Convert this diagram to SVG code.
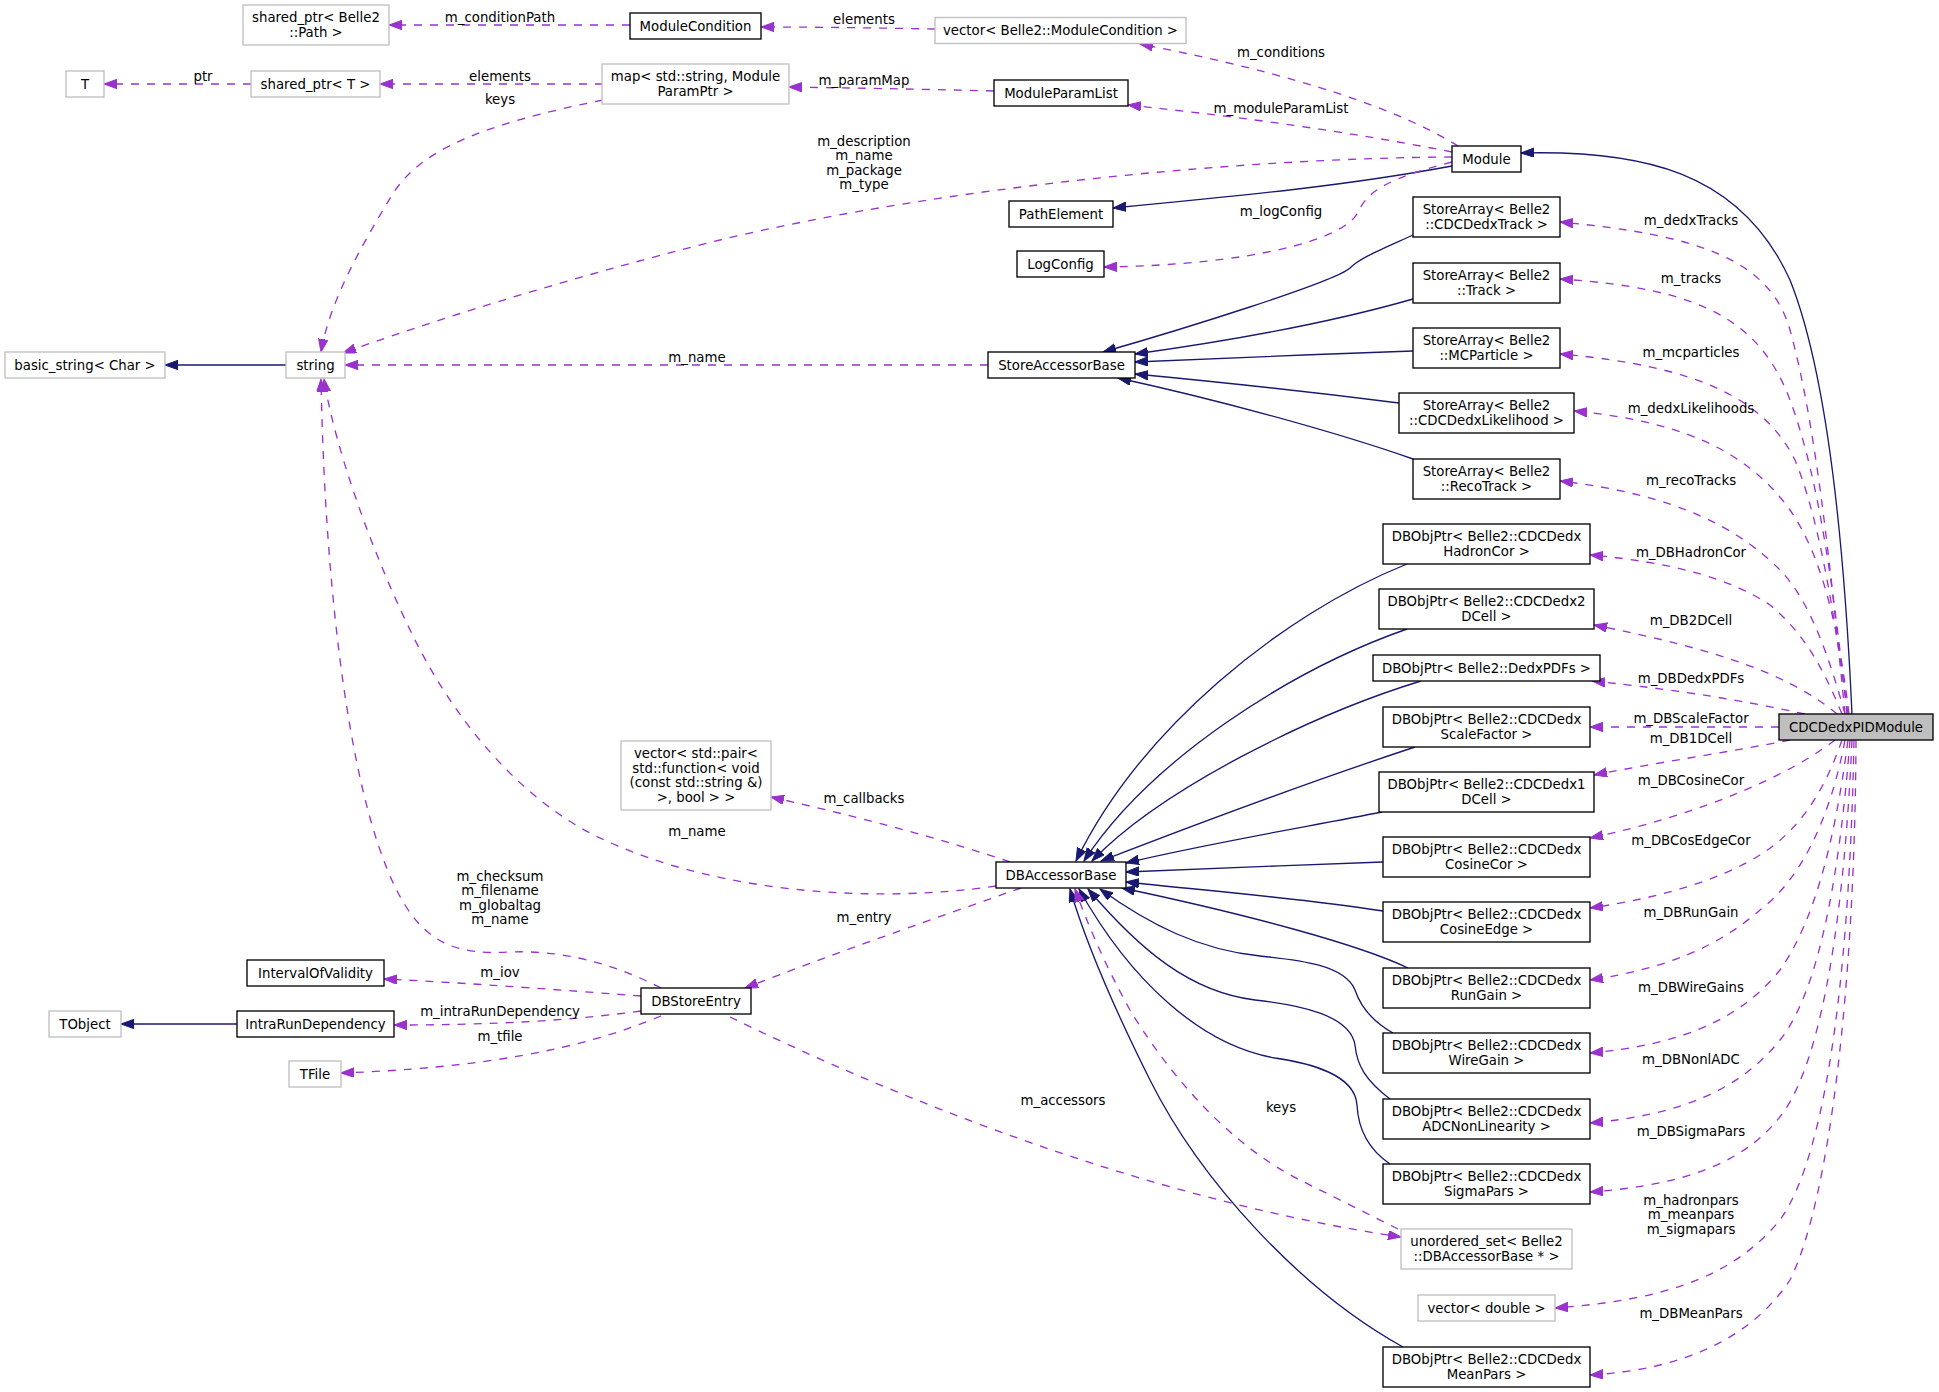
<svg xmlns="http://www.w3.org/2000/svg" width="1939" height="1392" viewBox="0 0 1939 1392">
<style>
text{font-family:"DejaVu Sans","Liberation Sans",sans-serif;font-size:13.3px;text-anchor:middle;fill:#000}
.n rect{fill:#fff;stroke:#000;stroke-width:1.33}
.g rect{fill:#fff;stroke:#bfbfbf;stroke-width:1.33}
.m rect{fill:#bfbfbf;stroke:#000;stroke-width:1.33}
.s{fill:none;stroke:#191970;stroke-width:1.33}
.d{fill:none;stroke:#9a32cd;stroke-width:1.33;stroke-dasharray:8,8}
</style>
<defs>
<marker id="ab" markerUnits="userSpaceOnUse" markerWidth="14" markerHeight="10" refX="13" refY="4.7" orient="auto"><path d="M0,0 L13,4.7 L0,9.4 z" fill="#191970" stroke="#191970" stroke-width="1"/></marker>
<marker id="ap" markerUnits="userSpaceOnUse" markerWidth="14" markerHeight="10" refX="13" refY="4.7" orient="auto"><path d="M0,0 L13,4.7 L0,9.4 z" fill="#9a32cd" stroke="#9a32cd" stroke-width="1"/></marker>
</defs>
<rect width="1939" height="1392" fill="#fff"/>
<g id="connectors">
<path class="s" marker-end="url(#ab)" d="M1852,714 C1845,560 1830,380 1790,280 C1740,170 1640,150 1521,153"/>
<path class="s" marker-end="url(#ab)" d="M1452,166 C1350,185 1250,195 1113,208"/>
<path class="s" marker-end="url(#ab)" d="M286,365 L165,365"/>
<path class="s" marker-end="url(#ab)" d="M237,1024 L121,1024"/>
<path class="s" marker-end="url(#ab)" d="M1413,235 C1380,250 1360,258 1350,268 C1335,282 1180,330 1103,352"/>
<path class="s" marker-end="url(#ab)" d="M1413,299 C1340,320 1250,338 1135,354"/>
<path class="s" marker-end="url(#ab)" d="M1413,351 C1320,354 1230,358 1135,362"/>
<path class="s" marker-end="url(#ab)" d="M1399,403 C1320,393 1230,383 1135,374"/>
<path class="s" marker-end="url(#ab)" d="M1413,459 C1330,430 1210,398 1118,378"/>
<path class="s" marker-end="url(#ab)" d="M1407,564 C1280,615 1140,730 1076,861"/>
<path class="s" marker-end="url(#ab)" d="M1407,629 C1290,670 1150,760 1084,861"/>
<path class="s" marker-end="url(#ab)" d="M1421,681 C1310,715 1160,790 1092,861"/>
<path class="s" marker-end="url(#ab)" d="M1415,747 C1330,775 1220,815 1101,861"/>
<path class="s" marker-end="url(#ab)" d="M1382,812 C1300,828 1200,845 1126,863"/>
<path class="s" marker-end="url(#ab)" d="M1383,862 C1300,865 1200,869 1126,872"/>
<path class="s" marker-end="url(#ab)" d="M1383,911 C1300,898 1200,890 1126,882"/>
<path class="s" marker-end="url(#ab)" d="M1408,968 C1360,945 1250,915 1122,888"/>
<path class="s" marker-end="url(#ab)" d="M1393,1033 C1370,1020 1360,1005 1355,990 C1345,965 1300,960 1260,956 C1200,950 1150,925 1100,889"/>
<path class="s" marker-end="url(#ab)" d="M1390,1099 C1365,1080 1357,1065 1355,1045 C1350,1015 1300,1005 1255,1000 C1190,992 1140,950 1088,889"/>
<path class="s" marker-end="url(#ab)" d="M1390,1164 C1365,1147 1358,1125 1357,1105 C1355,1075 1310,1063 1275,1058 C1200,1045 1130,980 1079,889"/>
<path class="s" marker-end="url(#ab)" d="M1403,1347 C1300,1290 1200,1180 1150,1080 C1110,1000 1085,940 1070,889"/>
<path class="d" marker-end="url(#ap)" d="M630,25 L389,25"/>
<path class="d" marker-end="url(#ap)" d="M935,29 C880,28 820,27 761,27"/>
<path class="d" marker-end="url(#ap)" d="M251,84 L104,84"/>
<path class="d" marker-end="url(#ap)" d="M603,84 L380,84"/>
<path class="d" marker-end="url(#ap)" d="M994,91 C920,89 850,88 789,87"/>
<path class="d" marker-end="url(#ap)" d="M603,100 C480,125 420,150 392,195 C362,245 330,300 321,352"/>
<path class="d" marker-end="url(#ap)" d="M1458,146 C1400,110 1300,75 1140,44"/>
<path class="d" marker-end="url(#ap)" d="M1452,152 C1350,132 1250,118 1128,105"/>
<path class="d" marker-end="url(#ap)" d="M1452,157 C1250,158 950,185 720,240 C560,280 420,325 343,353"/>
<path class="d" marker-end="url(#ap)" d="M1452,162 C1390,178 1368,190 1358,212 C1345,240 1250,265 1104,267"/>
<path class="d" marker-end="url(#ap)" d="M988,365 L345,365"/>
<path class="d" marker-end="url(#ap)" d="M1845,714 C1830,560 1815,420 1790,330 C1770,260 1700,235 1560,222"/>
<path class="d" marker-end="url(#ap)" d="M1847,714 C1835,600 1820,480 1790,400 C1760,320 1700,288 1560,279"/>
<path class="d" marker-end="url(#ap)" d="M1848,714 C1835,620 1820,520 1795,460 C1765,400 1700,366 1560,354"/>
<path class="d" marker-end="url(#ap)" d="M1849,714 C1840,640 1825,560 1790,510 C1750,455 1690,422 1574,411"/>
<path class="d" marker-end="url(#ap)" d="M1845,714 C1830,660 1810,600 1780,570 C1740,530 1680,495 1560,481"/>
<path class="d" marker-end="url(#ap)" d="M1842,714 C1820,660 1800,630 1770,605 C1730,578 1670,562 1590,555"/>
<path class="d" marker-end="url(#ap)" d="M1837,714 C1790,675 1720,650 1594,625"/>
<path class="d" marker-end="url(#ap)" d="M1805,714 C1740,700 1680,690 1592,681"/>
<path class="d" marker-end="url(#ap)" d="M1779,727 L1590,727"/>
<path class="d" marker-end="url(#ap)" d="M1790,740 C1730,752 1660,762 1594,775"/>
<path class="d" marker-end="url(#ap)" d="M1835,740 C1790,775 1700,815 1590,838"/>
<path class="d" marker-end="url(#ap)" d="M1842,740 C1825,790 1800,830 1760,855 C1720,880 1660,898 1590,908"/>
<path class="d" marker-end="url(#ap)" d="M1845,740 C1830,820 1800,880 1760,910 C1720,945 1670,968 1590,980"/>
<path class="d" marker-end="url(#ap)" d="M1848,740 C1835,840 1815,920 1780,970 C1740,1020 1680,1045 1590,1053"/>
<path class="d" marker-end="url(#ap)" d="M1850,740 C1840,870 1820,990 1780,1040 C1740,1090 1680,1115 1590,1123"/>
<path class="d" marker-end="url(#ap)" d="M1852,740 C1845,900 1825,1050 1785,1110 C1750,1160 1690,1185 1590,1192"/>
<path class="d" marker-end="url(#ap)" d="M1854,740 C1850,950 1830,1150 1780,1220 C1730,1280 1660,1300 1555,1308"/>
<path class="d" marker-end="url(#ap)" d="M1856,740 C1855,980 1830,1200 1790,1280 C1750,1340 1680,1370 1590,1375"/>
<path class="d" marker-end="url(#ap)" d="M1010,862 C930,835 850,815 771,797"/>
<path class="d" marker-end="url(#ap)" d="M996,886 C880,903 720,895 600,838 C520,800 455,720 415,640 C375,560 335,450 324,379"/>
<path class="d" marker-end="url(#ap)" d="M1021,888 C930,920 830,955 745,988"/>
<path class="d" marker-end="url(#ap)" d="M661,988 C610,962 560,950 510,952 C460,955 430,945 405,905 C352,820 325,600 321,379"/>
<path class="d" marker-end="url(#ap)" d="M641,996 C560,990 470,983 384,979"/>
<path class="d" marker-end="url(#ap)" d="M641,1011 C560,1022 480,1025 394,1025"/>
<path class="d" marker-end="url(#ap)" d="M661,1016 C580,1050 480,1068 341,1073"/>
<path class="d" marker-end="url(#ap)" d="M730,1017 C900,1100 1150,1200 1401,1237"/>
<path class="d" marker-end="url(#ap)" d="M1398,1229 C1370,1215 1330,1195 1300,1180 C1220,1140 1160,1060 1130,1010 C1105,965 1088,925 1075,889"/>
<text x="500" y="21.5">m_conditionPath</text>
<text x="864" y="23.5">elements</text>
<text x="203" y="80.5">ptr</text>
<text x="500" y="80.5">elements</text>
<text x="500" y="103.5">keys</text>
<text x="864" y="84.5">m_paramMap</text>
<text x="1281" y="56.5">m_conditions</text>
<text x="1281" y="112.5">m_moduleParamList</text>
<text x="864" y="145.5">m_description</text>
<text x="864" y="160">m_name</text>
<text x="864" y="174.5">m_package</text>
<text x="864" y="189">m_type</text>
<text x="1281" y="215.5">m_logConfig</text>
<text x="697" y="361.5">m_name</text>
<text x="1691" y="224.5">m_dedxTracks</text>
<text x="1691" y="282.5">m_tracks</text>
<text x="1691" y="356.5">m_mcparticles</text>
<text x="1691" y="412.5">m_dedxLikelihoods</text>
<text x="1691" y="484.5">m_recoTracks</text>
<text x="1691" y="556.5">m_DBHadronCor</text>
<text x="1691" y="624.5">m_DB2DCell</text>
<text x="1691" y="682.5">m_DBDedxPDFs</text>
<text x="1691" y="723">m_DBScaleFactor</text>
<text x="1691" y="742.5">m_DB1DCell</text>
<text x="1691" y="784.5">m_DBCosineCor</text>
<text x="1691" y="844.5">m_DBCosEdgeCor</text>
<text x="1691" y="916.5">m_DBRunGain</text>
<text x="1691" y="991.5">m_DBWireGains</text>
<text x="1691" y="1063.5">m_DBNonlADC</text>
<text x="1691" y="1135.5">m_DBSigmaPars</text>
<text x="1691" y="1204.5">m_hadronpars</text>
<text x="1691" y="1219">m_meanpars</text>
<text x="1691" y="1233.5">m_sigmapars</text>
<text x="1691" y="1317.5">m_DBMeanPars</text>
<text x="864" y="802.5">m_callbacks</text>
<text x="697" y="835.5">m_name</text>
<text x="864" y="921.5">m_entry</text>
<text x="500" y="880.5">m_checksum</text>
<text x="500" y="895">m_filename</text>
<text x="500" y="909.5">m_globaltag</text>
<text x="500" y="924">m_name</text>
<text x="500" y="976.5">m_iov</text>
<text x="500" y="1015.5">m_intraRunDependency</text>
<text x="500" y="1040.5">m_tfile</text>
<text x="1063" y="1104.5">m_accessors</text>
<text x="1281" y="1111.5">keys</text>
</g>
<g id="node_shared_ptr_path" class="g"><rect x="243" y="5" width="146" height="40"/><text x="316" y="22.3">shared_ptr&lt; Belle2</text><text x="316" y="36.8">::Path &gt;</text></g>
<g id="node_T" class="g"><rect x="66" y="71" width="38" height="26"/><text x="85" y="88.5">T</text></g>
<g id="node_shared_ptr_T" class="g"><rect x="251" y="71" width="129" height="26"/><text x="315.5" y="88.5">shared_ptr&lt; T &gt;</text></g>
<g id="node_ModuleCondition" class="n"><rect x="630" y="13" width="131" height="26"/><text x="695.5" y="30.5">ModuleCondition</text></g>
<g id="node_vector_ModuleCondition" class="g"><rect x="935" y="17.5" width="251" height="26"/><text x="1060.5" y="35">vector&lt; Belle2::ModuleCondition &gt;</text></g>
<g id="node_map" class="g"><rect x="602" y="64" width="187" height="40"/><text x="695.5" y="81.3">map&lt; std::string, Module</text><text x="695.5" y="95.8">ParamPtr &gt;</text></g>
<g id="node_ModuleParamList" class="n"><rect x="994" y="80" width="134" height="26"/><text x="1061" y="97.5">ModuleParamList</text></g>
<g id="node_Module" class="n"><rect x="1452" y="146" width="69" height="26"/><text x="1486.5" y="163.5">Module</text></g>
<g id="node_PathElement" class="n"><rect x="1009" y="201" width="104" height="26"/><text x="1061" y="218.5">PathElement</text></g>
<g id="node_LogConfig" class="n"><rect x="1017" y="251" width="87" height="26"/><text x="1060.5" y="268.5">LogConfig</text></g>
<g id="node_basic_string" class="g"><rect x="5" y="352" width="160" height="26"/><text x="85" y="369.5">basic_string&lt; Char &gt;</text></g>
<g id="node_string" class="g"><rect x="286" y="352" width="59" height="26"/><text x="315.5" y="369.5">string</text></g>
<g id="node_StoreAccessorBase" class="n"><rect x="988" y="352" width="147" height="26"/><text x="1061.5" y="369.5">StoreAccessorBase</text></g>
<g id="node_SA_CDCDedxTrack" class="n"><rect x="1413" y="197" width="147" height="40"/><text x="1486.5" y="214.3">StoreArray&lt; Belle2</text><text x="1486.5" y="228.8">::CDCDedxTrack &gt;</text></g>
<g id="node_SA_Track" class="n"><rect x="1413" y="263" width="147" height="40"/><text x="1486.5" y="280.3">StoreArray&lt; Belle2</text><text x="1486.5" y="294.8">::Track &gt;</text></g>
<g id="node_SA_MCParticle" class="n"><rect x="1413" y="328" width="147" height="40"/><text x="1486.5" y="345.3">StoreArray&lt; Belle2</text><text x="1486.5" y="359.8">::MCParticle &gt;</text></g>
<g id="node_SA_CDCDedxLikelihood" class="n"><rect x="1399" y="393" width="175" height="40"/><text x="1486.5" y="410.3">StoreArray&lt; Belle2</text><text x="1486.5" y="424.8">::CDCDedxLikelihood &gt;</text></g>
<g id="node_SA_RecoTrack" class="n"><rect x="1413" y="459" width="147" height="40"/><text x="1486.5" y="476.3">StoreArray&lt; Belle2</text><text x="1486.5" y="490.8">::RecoTrack &gt;</text></g>
<g id="node_DB_HadronCor" class="n"><rect x="1383" y="524" width="207" height="40"/><text x="1486.5" y="541.3">DBObjPtr&lt; Belle2::CDCDedx</text><text x="1486.5" y="555.8">HadronCor &gt;</text></g>
<g id="node_DB_2DCell" class="n"><rect x="1379" y="589" width="215" height="40"/><text x="1486.5" y="606.3">DBObjPtr&lt; Belle2::CDCDedx2</text><text x="1486.5" y="620.8">DCell &gt;</text></g>
<g id="node_DB_DedxPDFs" class="n"><rect x="1373" y="655" width="227" height="26"/><text x="1486.5" y="672.5">DBObjPtr&lt; Belle2::DedxPDFs &gt;</text></g>
<g id="node_DB_ScaleFactor" class="n"><rect x="1383" y="707" width="207" height="40"/><text x="1486.5" y="724.3">DBObjPtr&lt; Belle2::CDCDedx</text><text x="1486.5" y="738.8">ScaleFactor &gt;</text></g>
<g id="node_DB_1DCell" class="n"><rect x="1379" y="772" width="215" height="40"/><text x="1486.5" y="789.3">DBObjPtr&lt; Belle2::CDCDedx1</text><text x="1486.5" y="803.8">DCell &gt;</text></g>
<g id="node_DB_CosineCor" class="n"><rect x="1383" y="837" width="207" height="40"/><text x="1486.5" y="854.3">DBObjPtr&lt; Belle2::CDCDedx</text><text x="1486.5" y="868.8">CosineCor &gt;</text></g>
<g id="node_DB_CosineEdge" class="n"><rect x="1383" y="902" width="207" height="40"/><text x="1486.5" y="919.3">DBObjPtr&lt; Belle2::CDCDedx</text><text x="1486.5" y="933.8">CosineEdge &gt;</text></g>
<g id="node_DB_RunGain" class="n"><rect x="1383" y="968" width="207" height="40"/><text x="1486.5" y="985.3">DBObjPtr&lt; Belle2::CDCDedx</text><text x="1486.5" y="999.8">RunGain &gt;</text></g>
<g id="node_DB_WireGain" class="n"><rect x="1383" y="1033" width="207" height="40"/><text x="1486.5" y="1050.3">DBObjPtr&lt; Belle2::CDCDedx</text><text x="1486.5" y="1064.8">WireGain &gt;</text></g>
<g id="node_DB_ADCNonLinearity" class="n"><rect x="1383" y="1099" width="207" height="40"/><text x="1486.5" y="1116.3">DBObjPtr&lt; Belle2::CDCDedx</text><text x="1486.5" y="1130.8">ADCNonLinearity &gt;</text></g>
<g id="node_DB_SigmaPars" class="n"><rect x="1383" y="1164" width="207" height="40"/><text x="1486.5" y="1181.3">DBObjPtr&lt; Belle2::CDCDedx</text><text x="1486.5" y="1195.8">SigmaPars &gt;</text></g>
<g id="node_unordered_set" class="g"><rect x="1401" y="1229" width="171" height="40"/><text x="1486.5" y="1246.3">unordered_set&lt; Belle2</text><text x="1486.5" y="1260.8">::DBAccessorBase * &gt;</text></g>
<g id="node_vector_double" class="g"><rect x="1418" y="1295" width="137" height="26"/><text x="1486.5" y="1312.5">vector&lt; double &gt;</text></g>
<g id="node_DB_MeanPars" class="n"><rect x="1383" y="1347" width="207" height="40"/><text x="1486.5" y="1364.3">DBObjPtr&lt; Belle2::CDCDedx</text><text x="1486.5" y="1378.8">MeanPars &gt;</text></g>
<g id="node_CDCDedxPIDModule" class="m"><rect x="1779" y="714" width="154" height="26"/><text x="1856" y="731.5">CDCDedxPIDModule</text></g>
<g id="node_vector_pair" class="g"><rect x="621" y="741" width="150" height="69"/><text x="696" y="758.3">vector&lt; std::pair&lt;</text><text x="696" y="772.8"> std::function&lt; void</text><text x="696" y="787.3">(const std::string &amp;)</text><text x="696" y="801.8">&gt;, bool &gt; &gt;</text></g>
<g id="node_DBAccessorBase" class="n"><rect x="996" y="862" width="130" height="26"/><text x="1061" y="879.5">DBAccessorBase</text></g>
<g id="node_IntervalOfValidity" class="n"><rect x="247" y="960" width="137" height="26"/><text x="315.5" y="977.5">IntervalOfValidity</text></g>
<g id="node_TObject" class="g"><rect x="49" y="1011" width="72" height="26"/><text x="85" y="1028.5">TObject</text></g>
<g id="node_IntraRunDependency" class="n"><rect x="237" y="1011" width="157" height="26"/><text x="315.5" y="1028.5">IntraRunDependency</text></g>
<g id="node_TFile" class="g"><rect x="289" y="1061" width="52" height="26"/><text x="315" y="1078.5">TFile</text></g>
<g id="node_DBStoreEntry" class="n"><rect x="641" y="988" width="110" height="26"/><text x="696" y="1005.5">DBStoreEntry</text></g>
</svg>
